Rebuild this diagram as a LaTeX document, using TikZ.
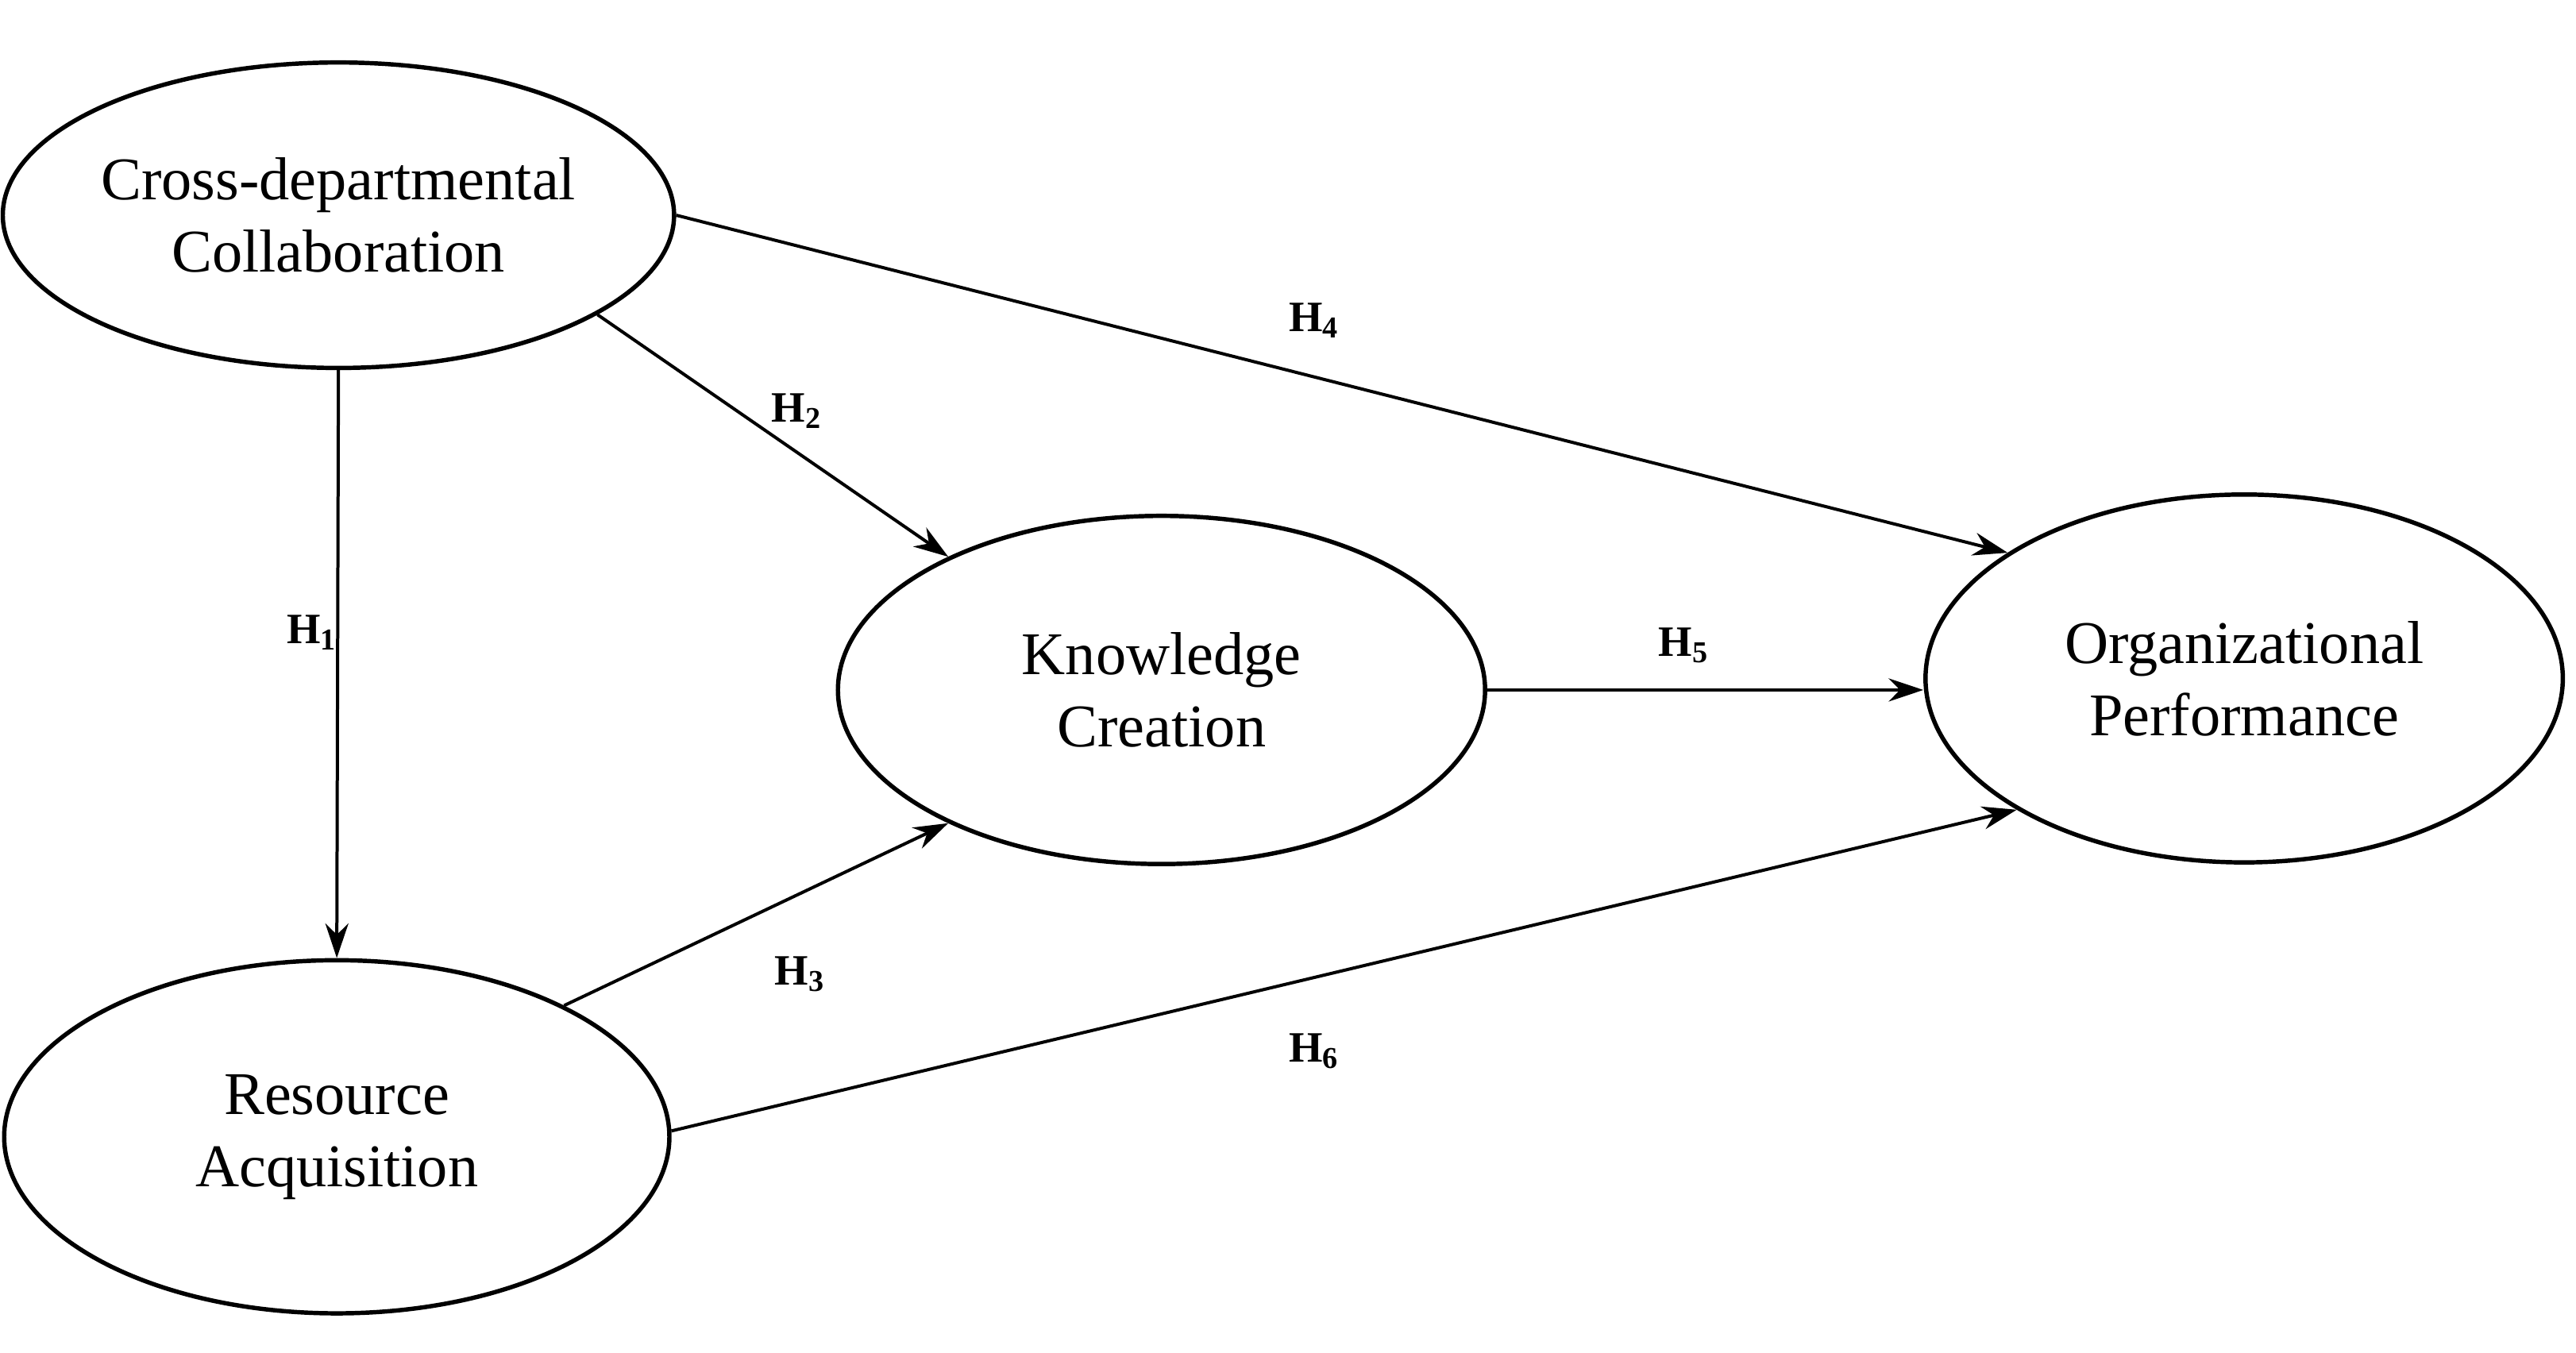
\documentclass[tikz,border=0pt]{standalone}
\usepackage{fontspec}
\setmainfont{Liberation Serif}
\usetikzlibrary{shapes.geometric,arrows.meta}
\begin{document}
\begin{tikzpicture}[x=0.02cm,y=-0.02cm,
  lat/.style={draw,ellipse,line width=1.5pt,inner sep=0pt,align=center,font=\fontsize{21}{25}\selectfont},
  arr/.style={line width=1.1pt,-{Stealth[length=12pt,width=8pt]}},
  lab/.style={font=\fontsize{15}{18}\selectfont\bfseries}]
\useasboundingbox (0,0) rectangle (1568,823.6);
\node[lat,minimum width=384\pgflinewidth*0+7.68cm,minimum height=3.72cm] (cdc) at (206,131) {Cross-departmental\\Collaboration};
\node[lat,minimum width=8.1cm,minimum height=4.3cm] (ra) at (205,692) {Resource\\Acquisition};
\node[lat,minimum width=7.88cm,minimum height=4.24cm] (kc) at (707,420) {Knowledge\\Creation};
\node[lat,minimum width=7.76cm,minimum height=4.48cm] (op) at (1366,413) {Organizational\\Performance};
\draw[arr] (cdc.south) -- (ra.north);
\draw[arr] (cdc.-21) -- (kc.148);
\draw[arr] (ra.30) -- (kc.212);
\draw[arr] (cdc.east) -- (op.152);
\draw[arr] (kc.east) -- (op.west |- kc.east);
\draw[arr] (ra.1) -- (op.210);
\node[lab] (h1) at (190,385) {H$_{\mathbf 1}$};
\node[lab] (h2) at (485,250) {H$_{\mathbf 2}$};
\node[lab] (h3) at (487,593) {H$_{\mathbf 3}$};
\node[lab] (h4) at (800,195) {H$_{\mathbf 4}$};
\node[lab] (h5) at (1025,393) {H$_{\mathbf 5}$};
\node[lab] (h6) at (800,640) {H$_{\mathbf 6}$};
\end{tikzpicture}
\end{document}
